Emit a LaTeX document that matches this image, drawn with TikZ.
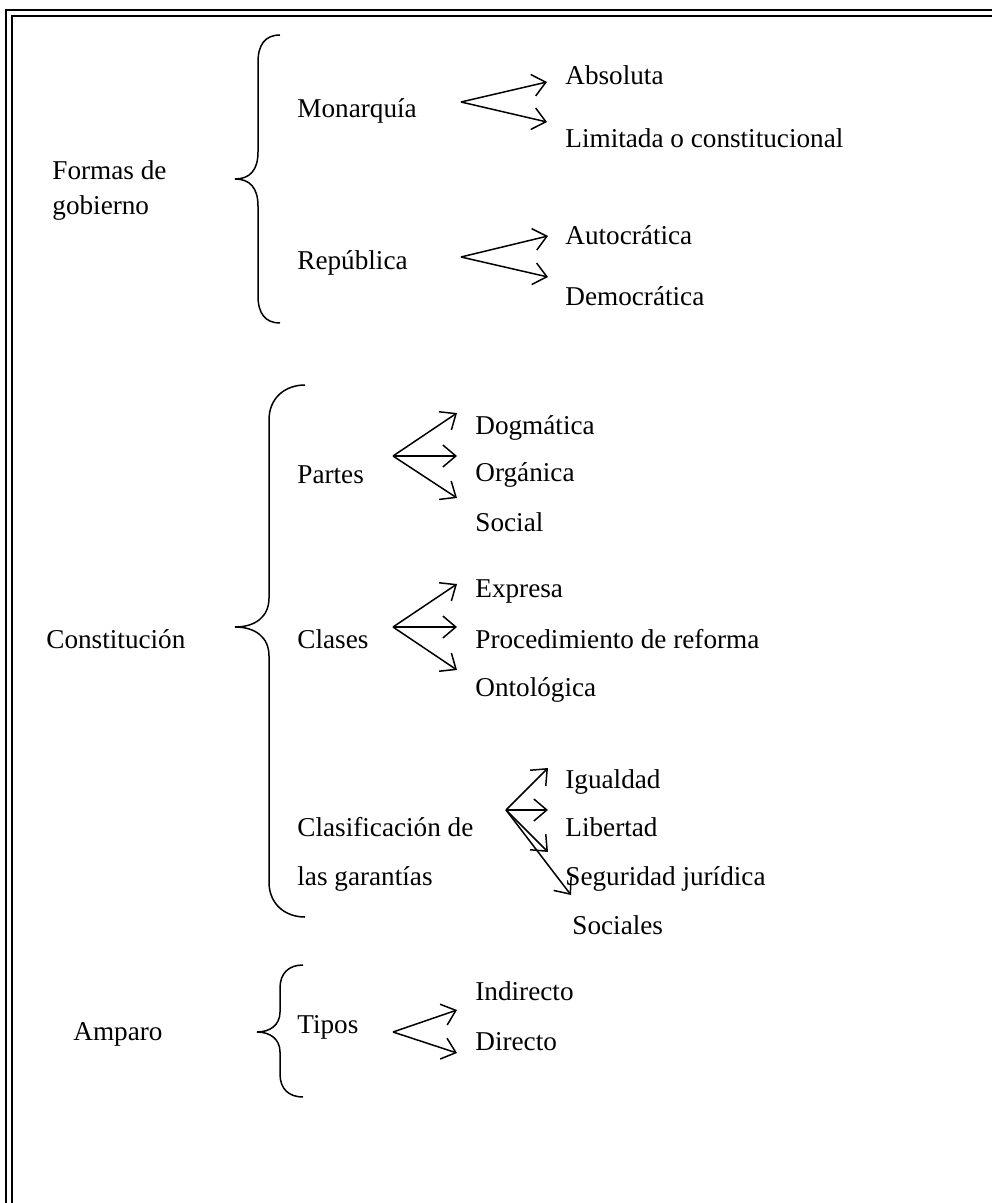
\documentclass[tikz,border=0pt]{standalone}
\usepackage{fontspec}
\setmainfont{Liberation Serif}
\usetikzlibrary{arrows.meta}
\tikzstyle{txt}=[anchor=west,inner sep=0pt,text height=0.9em,text depth=0.1em,
  font=\fontsize{13.6}{16}\selectfont]
\tikzstyle{flecha}=[-{Straight Barb[length=6.5pt,width=11pt]},line width=0.75pt]
\tikzstyle{llave}=[line width=0.75pt]

\begin{document}
\begin{tikzpicture}[x=0.5pt,y=-0.5pt]
    \useasboundingbox (0,0) rectangle (992,1203);
    % marco
    \draw[double,double distance=1.8pt,line width=1.3pt] (9,1203) -- (9,13) -- (992,13);

    % formas de gobierno
    \node [style=txt] (formas) at (52,172) {Formas de};
    \node [style=txt] (gobierno) at (52,207) {gobierno};
    \draw [style=llave] (280,35) .. controls (265,35) and (258,45) .. (258,62)
      -- (258,152) .. controls (258,170) and (250,179) .. (235,179)
      .. controls (250,179) and (258,188) .. (258,206)
      -- (258,296) .. controls (258,313) and (265,323) .. (280,323);
    \node [style=txt] (monarquia) at (297,110) {Monarquía};
    \node [style=txt] (absoluta) at (565,77) {Absoluta};
    \node [style=txt] (limitada) at (565,140) {Limitada o constitucional};
    \node [style=txt] (republica) at (297,262) {República};
    \node [style=txt] (autocratica) at (565,237) {Autocrática};
    \node [style=txt] (democratica) at (565,298) {Democrática};
    \coordinate (m0) at (461,102);
    \coordinate (m1) at (547,82);
    \coordinate (m2) at (547,122);
    \coordinate (r0) at (461,257);
    \coordinate (r1) at (548,236);
    \coordinate (r2) at (548,277);
    \draw [style=flecha] (m0) to (m1);
    \draw [style=flecha] (m0) to (m2);
    \draw [style=flecha] (r0) to (r1);
    \draw [style=flecha] (r0) to (r2);

    % constitucion
    \node [style=txt] (constitucion) at (46,640) {Constitución};
    \draw [style=llave] (305,385) .. controls (285,385) and (269,398) .. (269,420)
      -- (269,598) .. controls (269,617) and (255,627) .. (235,627)
      .. controls (255,627) and (269,637) .. (269,656)
      -- (269,882) .. controls (269,904) and (285,917) .. (305,917);
    \node [style=txt] (partes) at (297,475) {Partes};
    \node [style=txt] (dogmatica) at (475,426) {Dogmática};
    \node [style=txt] (organica) at (475,473) {Orgánica};
    \node [style=txt] (social) at (475,523) {Social};
    \node [style=txt] (clases) at (297,640) {Clases};
    \node [style=txt] (expresa) at (475,589) {Expresa};
    \node [style=txt] (procedimiento) at (475,640) {Procedimiento de reforma};
    \node [style=txt] (ontologica) at (475,688) {Ontológica};
    \node [style=txt] (clasif) at (297,828) {Clasificación de};
    \node [style=txt] (garantias) at (297,877) {las garantías};
    \node [style=txt] (igualdad) at (565,780) {Igualdad};
    \node [style=txt] (libertad) at (565,828) {Libertad};
    \node [style=txt] (seguridad) at (565,877) {Seguridad jurídica};
    \node [style=txt] (sociales) at (572,926) {Sociales};
    \coordinate (p0) at (393,456);
    \coordinate (p1) at (457,413);
    \coordinate (p2) at (457,456);
    \coordinate (p3) at (457,498);
    \coordinate (c0) at (393,627);
    \coordinate (c1) at (457,584);
    \coordinate (c2) at (457,627);
    \coordinate (c3) at (457,670);
    \coordinate (g0) at (506,810);
    \coordinate (g1) at (548,768);
    \coordinate (g2) at (548,810);
    \coordinate (g3) at (548,852);
    \coordinate (g4) at (571,895);
    \draw [style=flecha] (p0) to (p1);
    \draw [style=flecha] (p0) to (p2);
    \draw [style=flecha] (p0) to (p3);
    \draw [style=flecha] (c0) to (c1);
    \draw [style=flecha] (c0) to (c2);
    \draw [style=flecha] (c0) to (c3);
    \draw [style=flecha] (g0) to (g1);
    \draw [style=flecha] (g0) to (g2);
    \draw [style=flecha] (g0) to (g3);
    \draw [style=flecha] (g0) to (g4);

    % amparo
    \node [style=txt] (amparo) at (73,1032) {Amparo};
    \draw [style=llave] (303,965) .. controls (289,965) and (280,973) .. (280,988)
      -- (280,1012) .. controls (280,1025) and (270,1032) .. (257,1032)
      .. controls (270,1032) and (280,1039) .. (280,1052)
      -- (280,1074) .. controls (280,1089) and (289,1097) .. (303,1097);
    \node [style=txt] (tipos) at (297,1025) {Tipos};
    \node [style=txt] (indirecto) at (475,992) {Indirecto};
    \node [style=txt] (directo) at (475,1042) {Directo};
    \coordinate (t0) at (393,1032);
    \coordinate (t1) at (457,1010);
    \coordinate (t2) at (457,1053);
    \draw [style=flecha] (t0) to (t1);
    \draw [style=flecha] (t0) to (t2);
  \end{tikzpicture}
\end{document}
